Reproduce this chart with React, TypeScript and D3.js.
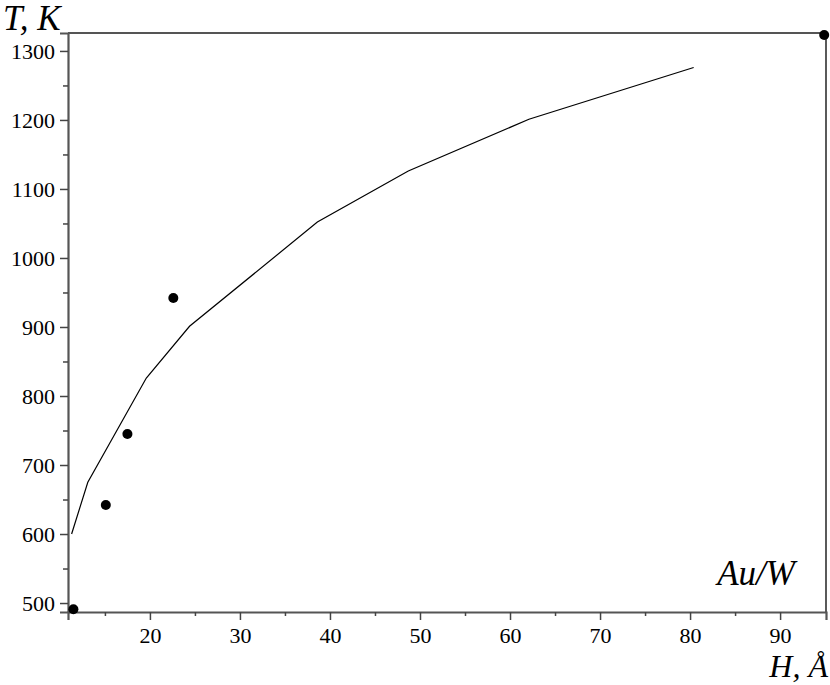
import * as d3 from 'd3'
import { useRef, useEffect } from 'react'

// measured points (H, T)
const pointH = [11.5, 15.1, 17.5, 22.6, 94.9]
const pointT = [491, 642, 745, 942, 1323]

// model curve
const curveH = [11.3, 13.1, 19.6, 24.4, 38.6, 48.7, 62.1, 80.4]
const curveT = [600, 675, 826, 901, 1052, 1126, 1201, 1276]

const xTicks = [20, 30, 40, 50, 60, 70, 80, 90]
const xMinor = [15, 25, 35, 45, 55, 65, 75, 85]
const yTicks = [500, 600, 700, 800, 900, 1000, 1100, 1200, 1300]
const yMinor = [550, 650, 750, 850, 950, 1050, 1150, 1250]

const W = 830
const H = 685
const FONT = '"Liberation Serif", "DejaVu Serif", serif'

export default function App() {
    const svgRef = useRef(null)

    useEffect(() => {
        const svg = d3.select(svgRef.current)
        svg.selectAll('*').remove()

        const left = 68, right = 826, top = 33, bottom = 612

        const x = d3.scaleLinear().domain([10.9, 95.1]).range([left, right])
        const y = d3.scaleLinear().domain([487, 1326]).range([bottom, top])

        const axisColor = '#555'

        // frame: top gray, right black
        svg.append('line')
            .attr('x1', left).attr('x2', right)
            .attr('y1', top).attr('y2', top)
            .attr('stroke', axisColor).attr('stroke-width', 2)
        svg.append('line')
            .attr('x1', right).attr('x2', right)
            .attr('y1', top).attr('y2', bottom)
            .attr('stroke', '#000').attr('stroke-width', 1.3)

        // x axis
        const gx = svg.append('g').attr('transform', `translate(0,${bottom})`)
        gx.call(d3.axisBottom(x).tickValues(xTicks).tickSize(8).tickPadding(4).tickFormat(d3.format('d')))
        gx.append('g').call(d3.axisBottom(x).tickValues(xMinor).tickSize(4).tickFormat(() => ''))
            .select('.domain').remove()

        // y axis
        const gy = svg.append('g').attr('transform', `translate(${left},0)`)
        gy.call(d3.axisLeft(y).tickValues(yTicks).tickSize(8).tickPadding(5).tickFormat(d3.format('d')))
        gy.append('g').call(d3.axisLeft(y).tickValues(yMinor).tickSize(5).tickFormat(() => ''))
            .select('.domain').remove()

        svg.selectAll('.domain')
            .attr('stroke', axisColor).attr('stroke-width', 2.2)
        svg.selectAll('.tick line')
            .attr('stroke', '#444').attr('stroke-width', 1.5)
        svg.selectAll('.tick text')
            .attr('fill', '#000')
            .style('font-family', FONT)
            .style('font-size', '22px')
        gx.selectAll('.tick text').attr('dy', '0.85em')
        gy.selectAll('.tick text').attr('dy', '0.33em')

        // curve
        const line = d3.line().x(d => x(d[0])).y(d => y(d[1]))
        svg.append('path')
            .datum(curveH.map((h, i) => [h, curveT[i]]))
            .attr('d', line)
            .attr('fill', 'none')
            .attr('stroke', '#000')
            .attr('stroke-width', 1.2)

        // points
        svg.append('g').selectAll('circle')
            .data(pointH.map((h, i) => [h, pointT[i]]))
            .join('circle')
            .attr('cx', d => x(d[0]))
            .attr('cy', d => y(d[1]))
            .attr('r', 5)
            .attr('fill', '#000')

        // labels
        svg.append('text')
            .attr('x', 3).attr('y', 30)
            .style('font-family', FONT).style('font-style', 'italic').style('font-size', '35px')
            .text('T, K')
        svg.append('text')
            .attr('x', 828).attr('y', 677)
            .attr('text-anchor', 'end')
            .style('font-family', FONT).style('font-style', 'italic').style('font-size', '32px')
            .text('H, Å')
        svg.append('text')
            .attr('x', 795).attr('y', 585)
            .attr('text-anchor', 'end')
            .style('font-family', FONT).style('font-style', 'italic').style('font-size', '35px')
            .text('Au/W')
    }, [])

    return (
        <svg ref={svgRef} width={W} height={H}
            style={{ position: 'absolute', left: 0, top: 0, background: '#fff' }} />
    )
}
